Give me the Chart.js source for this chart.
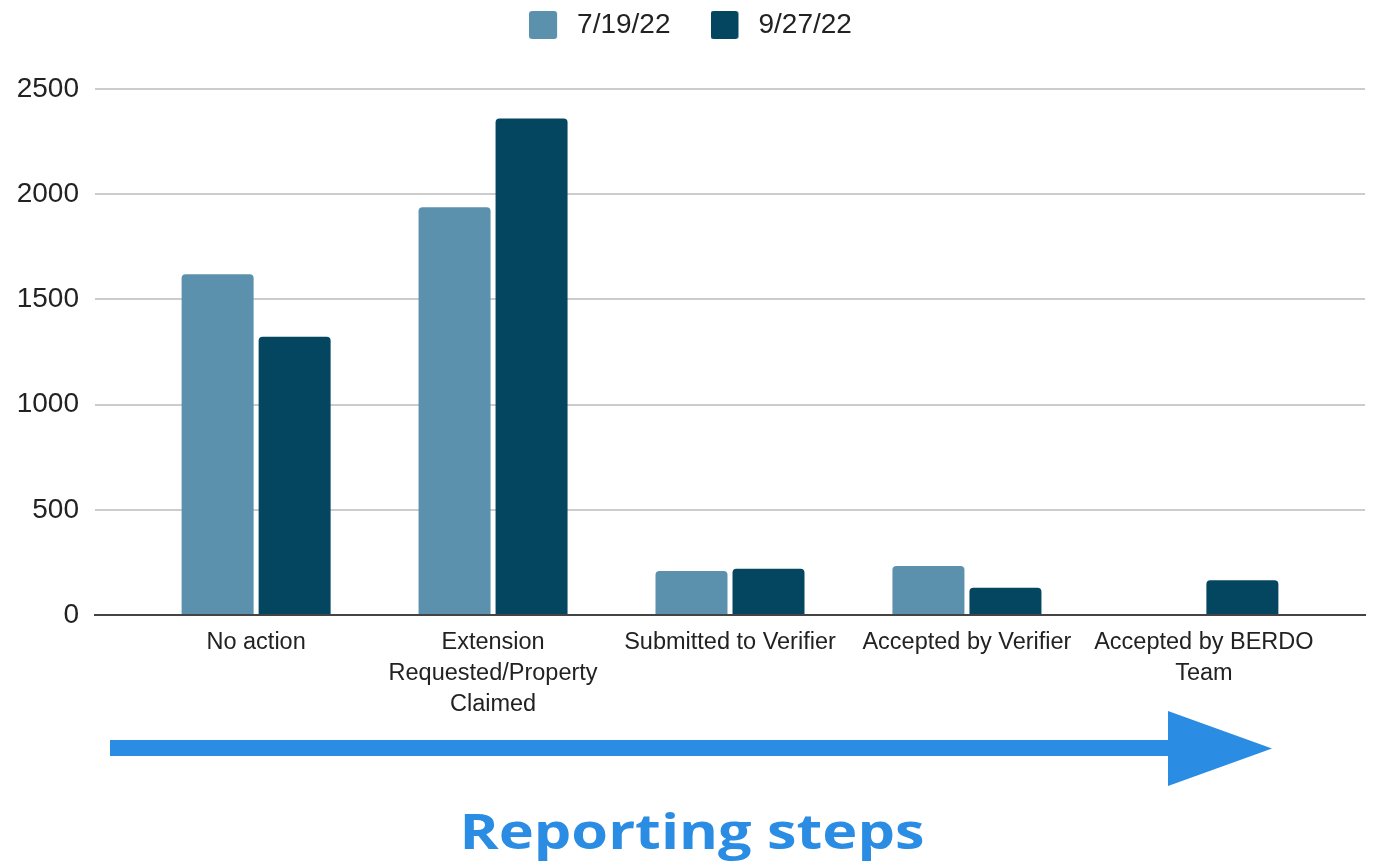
<!DOCTYPE html>
<html><head><meta charset="utf-8">
<script src="https://cdn.jsdelivr.net/npm/chart.js@4.4.1/dist/chart.umd.min.js"></script>
<style>
html,body{margin:0;padding:0;background:#fff;}
#wrap{position:relative;width:1374px;height:863px;overflow:hidden;}
#wrap canvas{position:absolute;left:0;top:0;}
#deco{position:absolute;left:0;top:0;pointer-events:none;}
</style></head><body>
<div id="wrap"><canvas id="c" width="1374" height="863"></canvas>
<svg id="deco" width="1374" height="863">
 <rect x="110" y="740" width="1060" height="16" fill="#2a8ce2"/>
 <polygon points="1168,711 1272,748.5 1168,786" fill="#2a8ce2"/>
 <text x="692" y="849" text-anchor="middle" font-family="Open Sans" font-weight="700" font-size="48" fill="#2a8ce2" textLength="465" lengthAdjust="spacingAndGlyphs">Reporting steps</text>
</svg></div>
<script>
// ---- data ----
const CATEGORIES = [
  'No action',
  ['Extension', 'Requested/Property', 'Claimed'],
  'Submitted to Verifier',
  'Accepted by Verifier',
  ['Accepted by BERDO', 'Team']
];
const SERIES_NAMES = ['7/19/22', '9/27/22'];
const VALUES_0719 = [1620, 1938, 209, 233, 0];
const VALUES_0927 = [1323, 2360, 220, 130, 165];
const Y_MIN = 0, Y_MAX = 2500, Y_STEP = 500;

// ---- styles ----
const COLOR_LIGHT = '#5b91ad';
const COLOR_DARK = '#044660';
const FONT = "'Liberation Sans'";

// category scale with extra space at both ends (Google-Charts-like)
class PaddedCategoryScale extends Chart.CategoryScale {
  _applyPad() {
    const pad = this.options.edgePadding || 0;
    const off = this.options.offset ? 0.5 : 0;
    this._startValue = this.min - off - pad;
    this._valueRange = Math.max(this.max - this.min + 2 * off, 1) + 2 * pad;
  }
  buildTicks() { const t = super.buildTicks(); this._applyPad(); return t; }
  configure() { super.configure(); this._applyPad(); }
}
PaddedCategoryScale.id = 'paddedCategory';
PaddedCategoryScale.defaults = Chart.CategoryScale.defaults;
Chart.register(PaddedCategoryScale);

const legendSpacer = {
  id: 'legendSpacer',
  beforeInit(chart) {
    const lg = chart.legend;
    const orig = lg.fit;
    lg.fit = function () { orig.call(this); this.height += 40; };
  }
};

// legend swatch: 28px rounded square, followed by 6px of blank space
function swatch(color) {
  const cv = document.createElement('canvas');
  cv.width = 34; cv.height = 28;
  const g = cv.getContext('2d');
  g.fillStyle = color;
  g.beginPath();
  if (g.roundRect) g.roundRect(0, 0, 28, 28, 3); else g.rect(0, 0, 28, 28);
  g.fill();
  return cv;
}

function draw() {
  new Chart(document.getElementById('c'), {
    type: 'bar',
    data: {
      labels: CATEGORIES,
      datasets: [
        { label: SERIES_NAMES[0], data: VALUES_0719, backgroundColor: COLOR_LIGHT,
          pointStyle: swatch(COLOR_LIGHT),
          borderRadius: 4, categoryPercentage: 0.65, barPercentage: 0.935 },
        { label: SERIES_NAMES[1], data: VALUES_0927, backgroundColor: COLOR_DARK,
          pointStyle: swatch(COLOR_DARK),
          borderRadius: 4, categoryPercentage: 0.65, barPercentage: 0.935 }
      ]
    },
    options: {
      responsive: false,
      animation: false,
      layout: { padding: { top: -29, right: 9, bottom: 0, left: 16 } },
      plugins: {
        legend: {
          position: 'top',
          labels: {
            font: { family: FONT, size: 28 },
            color: '#222',
            usePointStyle: true,
            pointStyleWidth: 34,
            boxHeight: 28,
            padding: 40
          }
        },
        tooltip: { enabled: false }
      },
      scales: {
        x: {
          type: 'paddedCategory',
          offset: true,
          edgePadding: 0.18,
          grid: { display: false, drawTicks: false },
          border: { display: true, color: '#444', width: 2 },
          ticks: {
            font: { family: FONT, size: 23.5, lineHeight: 31 / 23.5 },
            color: '#222', padding: 12, maxRotation: 0, autoSkip: false
          },
          afterFit(s) { s.height = 248; }
        },
        y: {
          min: Y_MIN, max: Y_MAX,
          grid: { color: '#cccccc', lineWidth: 2, drawTicks: false },
          border: { display: false },
          ticks: {
            stepSize: Y_STEP,
            font: { family: FONT, size: 28 },
            color: '#222', padding: 16,
            callback: (v) => String(v)
          },
          afterFit(s) { s.width = 79; }
        }
      }
    },
    plugins: [legendSpacer]
  });
}

Promise.all([
  document.fonts.load("23px 'Liberation Sans'"),
  document.fonts.load("700 48px 'Open Sans'")
]).then(draw, draw);
</script>
</body></html>
